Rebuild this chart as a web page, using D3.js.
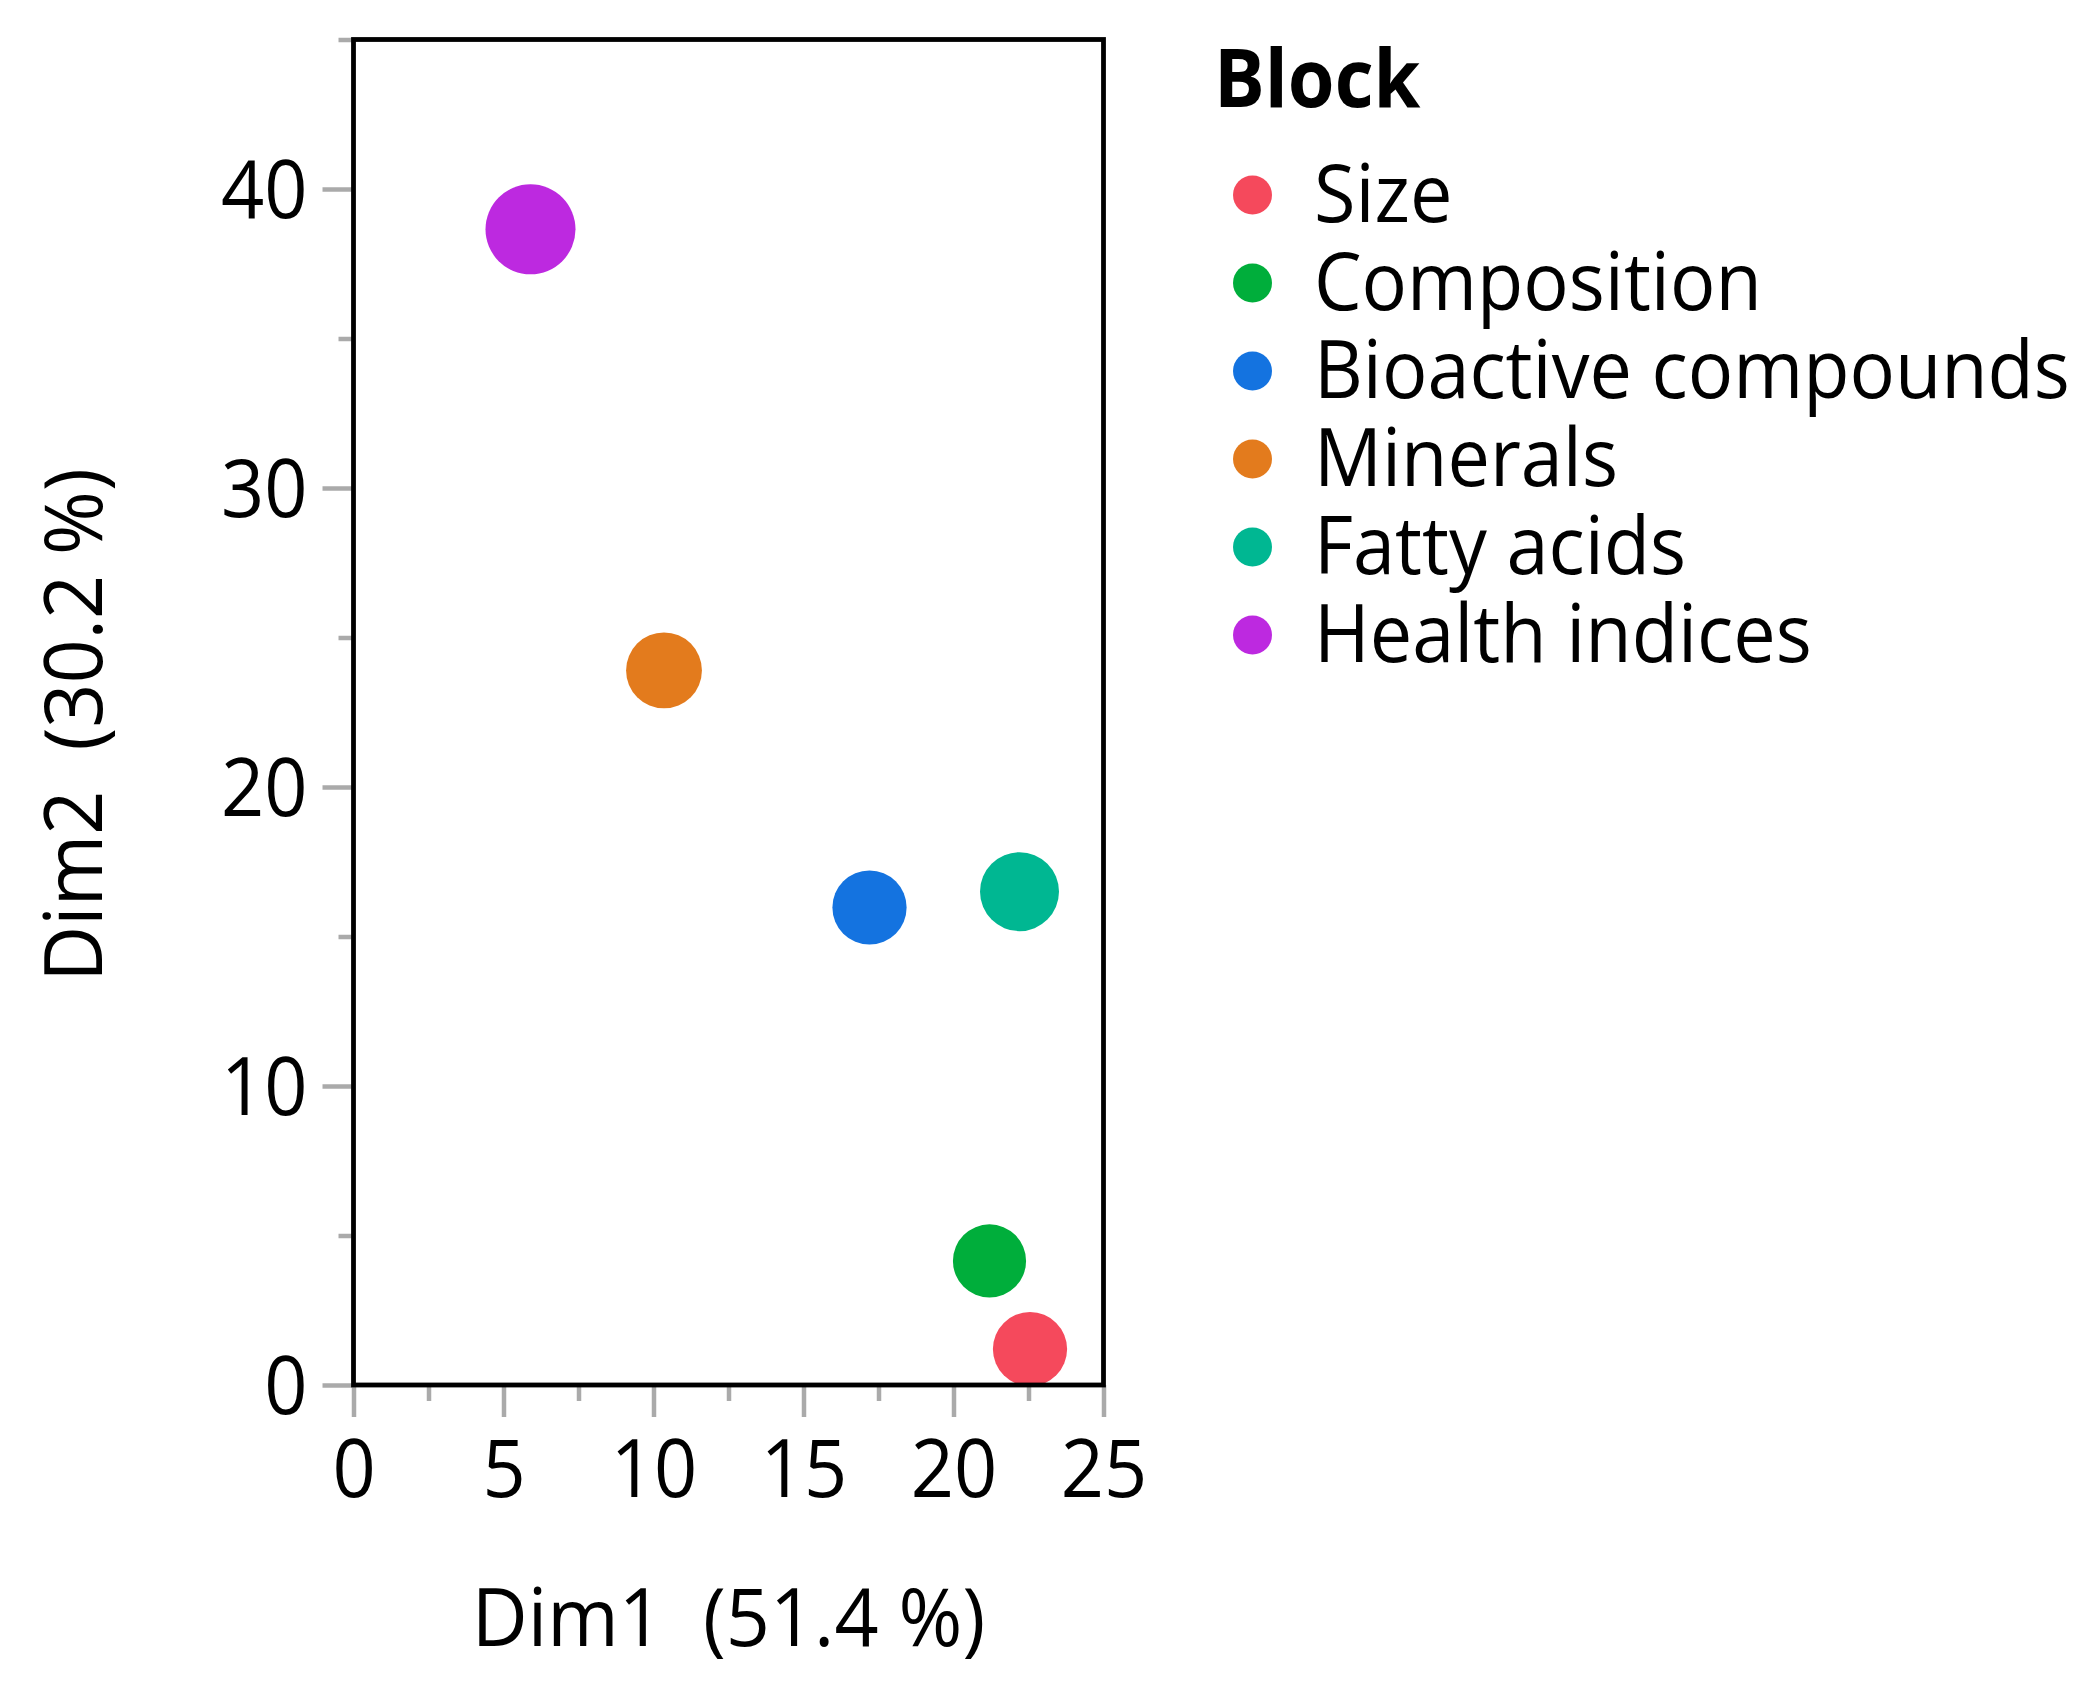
<!DOCTYPE html>
<html>
<head>
<meta charset="utf-8">
<script src="https://cdn.jsdelivr.net/npm/d3@7"></script>
<style>
  html, body { margin: 0; padding: 0; background: #ffffff; }
  svg { display: block; }
  text { font-family: "Open Sans", "Noto Sans", sans-serif; fill: #000; white-space: pre; }
</style>
</head>
<body>
<svg id="chart" width="2095" height="1689"></svg>
<script>
// ---- data ----
const blocks = ["Size", "Composition", "Bioactive compounds", "Minerals", "Fatty acids", "Health indices"];
const dim1 = [22.55, 21.2, 17.2, 10.35, 22.2, 5.9];
const dim2 = [1.2, 4.15, 15.97, 23.9, 16.5, 38.65];
const pointWeight = [0.68, 0.66, 0.68, 0.71, 0.77, 1.0];
const blockColors = ["#f5495c", "#00ae3b", "#1473e0", "#e37b1d", "#00b792", "#bd29e0"];
const xTicks = [0, 5, 10, 15, 20, 25];
const xMinorTicks = [2.5, 7.5, 12.5, 17.5, 22.5];
const yTicks = [0, 10, 20, 30, 40];
const yMinorTicks = [5, 15, 25, 35, 45];
const xTitle = "Dim1  (51.4 %)";
const yTitle = "Dim2  (30.2 %)";
const legendTitle = "Block";

// ---- layout ----
const L = 353.5, R = 1103.5, T = 39.5, B = 1385;
const FS = 80;
const K = 0.945;  // horizontal squeeze for legend / tick text
const KT = 0.965; // horizontal squeeze for axis titles
const svg = d3.select("#chart");

const x = d3.scaleLinear().domain([0, 25]).range([L, R]);
const y = d3.scaleLinear().domain([0, 45]).range([B, T]);
const r = d3.scaleSqrt().domain([0, 1]).range([0, 45]);
const color = d3.scaleOrdinal().domain(blocks).range(blockColors);

const tickColor = "#aaaaaa";

function styleAxis(g) {
  g.select(".domain").remove();
  g.selectAll(".tick line").attr("stroke", tickColor).attr("stroke-width", 4.5);
}

// x major
const gx = svg.append("g").attr("transform", `translate(0,${B})`)
  .call(d3.axisBottom(x).tickValues(xTicks).tickSize(32).tickFormat(d3.format("d")));
styleAxis(gx);
gx.selectAll(".tick text")
  .attr("x", 0).attr("y", 0).attr("dy", null)
  .attr("transform", `translate(0,112) scale(${K},1)`)
  .style("font-size", FS + "px").style("font-family", '"Open Sans", sans-serif').attr("fill", "#000");

// x minor
const gxm = svg.append("g").attr("transform", `translate(0,${B})`)
  .call(d3.axisBottom(x).tickValues(xMinorTicks).tickSize(16).tickFormat(""));
styleAxis(gxm);

// y major
const gy = svg.append("g").attr("transform", `translate(${L},0)`)
  .call(d3.axisLeft(y).tickValues(yTicks).tickSize(31).tickFormat(d3.format("d")));
styleAxis(gy);
gy.selectAll(".tick text")
  .attr("x", 0).attr("dy", "0.36em")
  .attr("transform", `translate(-46,0) scale(${K},1)`)
  .style("font-size", FS + "px").style("font-family", '"Open Sans", sans-serif').attr("fill", "#000");

// y minor
const gym = svg.append("g").attr("transform", `translate(${L},0)`)
  .call(d3.axisLeft(y).tickValues(yMinorTicks).tickSize(15).tickFormat(""));
styleAxis(gym);

// points
const idx = d3.range(blocks.length);
svg.append("g").selectAll("circle")
  .data(idx)
  .join("circle")
  .attr("cx", i => x(dim1[i]))
  .attr("cy", i => y(dim2[i]))
  .attr("r", i => r(pointWeight[i]))
  .attr("fill", i => color(blocks[i]));

// frame
svg.append("rect")
  .attr("x", L).attr("y", T)
  .attr("width", R - L).attr("height", B - T)
  .attr("fill", "none").attr("stroke", "#000").attr("stroke-width", 4.8);

// axis titles
svg.append("text")
  .attr("transform", `translate(${(L + R) / 2},1646) scale(${KT},1)`)
  .attr("text-anchor", "middle")
  .style("font-size", FS + "px")
  .text(xTitle);

svg.append("text")
  .attr("transform", `translate(102,725) rotate(-90) scale(${KT},1)`)
  .attr("text-anchor", "middle")
  .style("font-size", FS + "px")
  .text(yTitle);

// legend
const lg = svg.append("g");
lg.append("text")
  .attr("transform", `translate(1214,107) scale(${K},1)`)
  .style("font-size", FS + "px").style("font-weight", "bold")
  .text(legendTitle);

const items = lg.selectAll("g.item").data(idx).join("g").attr("class", "item")
  .attr("transform", i => `translate(0,${i * 88})`);
items.append("circle")
  .attr("cx", 1252.5).attr("cy", 195).attr("r", 19.5)
  .attr("fill", i => color(blocks[i]));
items.append("text")
  .attr("transform", `translate(1314,222) scale(${K},1)`)
  .style("font-size", FS + "px")
  .text(i => blocks[i]);
</script>
</body>
</html>
